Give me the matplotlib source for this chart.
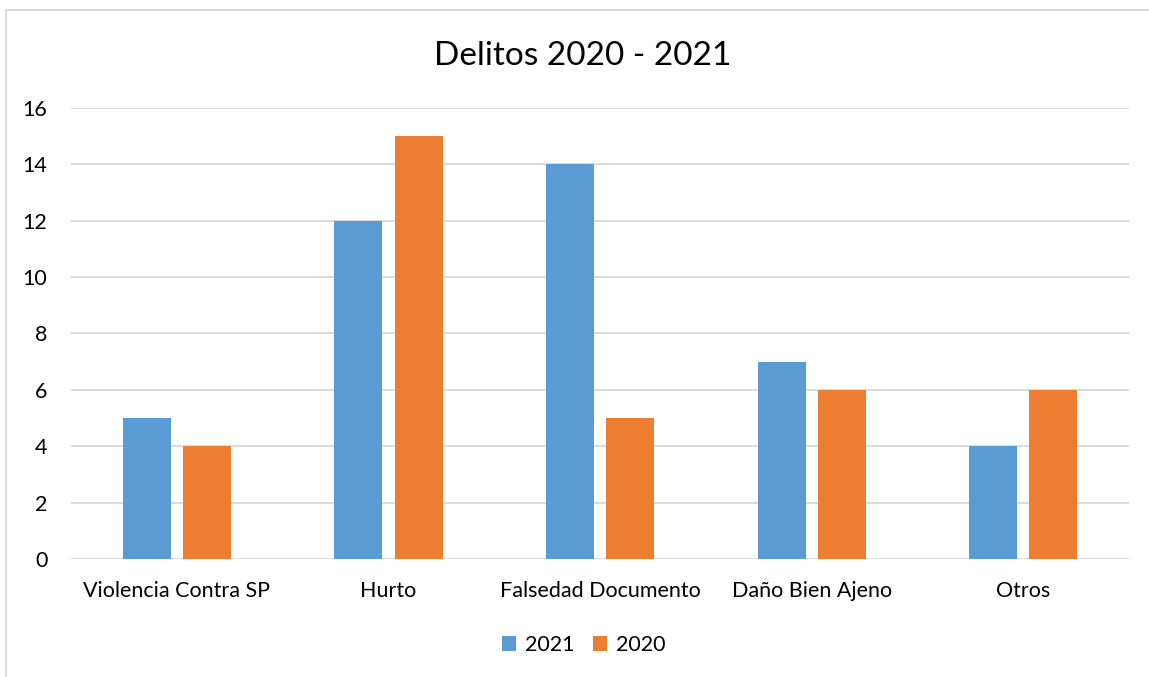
import numpy as np
import matplotlib.pyplot as plt
from matplotlib.lines import Line2D

categorias = ["Violencia Contra SP", "Hurto", "Falsedad Documento", "Daño Bien Ajeno", "Otros"]
serie_2021 = [5, 12, 14, 7, 4]
serie_2020 = [4, 15, 5, 6, 6]
etiquetas = ["2021", "2020"]

plt.rcParams['font.family'] = ['Lato', 'DejaVu Sans']

fig = plt.figure(figsize=(11.49, 6.77), dpi=100)
ax = fig.add_axes([0.0618, 0.1743, 0.9210, 0.6662])

x = np.arange(len(categorias))
ancho = 0.227
ax.bar(x - 0.142, serie_2021, ancho, color='#5B9BD5', label=etiquetas[0], zorder=3)
ax.bar(x + 0.142, serie_2020, ancho, color='#ED7D31', label=etiquetas[1], zorder=3)

ax.set_xlim(-0.5, len(categorias) - 0.5)
ax.set_ylim(0, 16)
ax.set_yticks(range(0, 17, 2))
ax.set_xticks(x)
ax.set_xticklabels(categorias)
ax.grid(axis='y', color='#D9D9D9', linewidth=1.3, zorder=0)
for s in ax.spines.values():
    s.set_visible(False)
ax.tick_params(length=0, labelsize=15.5, colors='#000000')
ax.tick_params(axis='x', pad=16)
ax.tick_params(axis='y', pad=17)

fig.text(0.507, 0.918, "Delitos 2020 - 2021", ha='center', va='center', fontsize=24)

ax.legend(loc='center', bbox_to_anchor=(0.508, 0.047), bbox_transform=fig.transFigure,
          ncol=2, frameon=False, fontsize=15.5, handlelength=0.65, handleheight=0.65,
          handletextpad=0.4, columnspacing=0.9)

# borde del gráfico
fig.add_artist(Line2D([0.0055, 0.0055], [0.0, 0.985], color='#D9D9D9', linewidth=1.5,
                      transform=fig.transFigure))
fig.add_artist(Line2D([0.0055, 1.0], [0.985, 0.985], color='#D9D9D9', linewidth=1.5,
                      transform=fig.transFigure))

fig.savefig("out.png", dpi=100)
